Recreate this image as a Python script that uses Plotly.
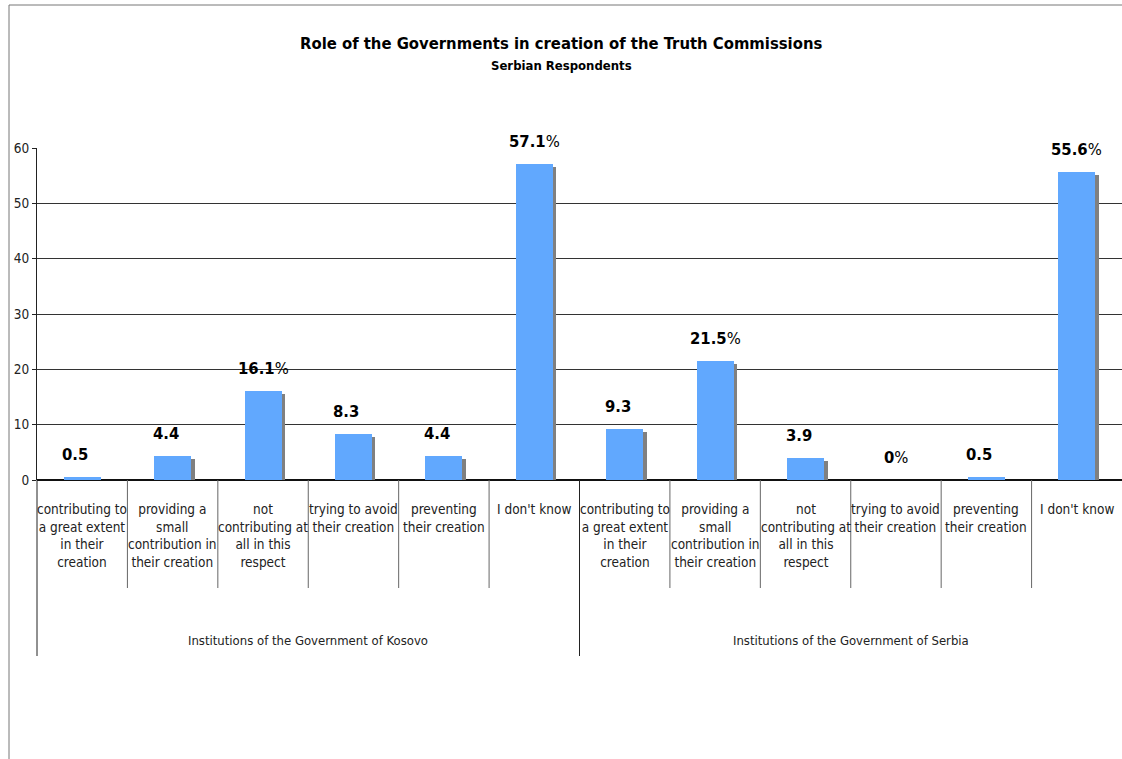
import plotly.graph_objects as go

# ---- data ----
categories = [
    "contributing to<br>a great extent<br>in their<br>creation",
    "providing a<br>small<br>contribution in<br>their creation",
    "not<br>contributing at<br>all in this<br>respect",
    "trying to avoid<br>their creation",
    "preventing<br>their creation",
    "I don't know",
]
groups = ["Institutions of the Government of Kosovo", "Institutions of the Government of Serbia"]
kosovo_values = [0.5, 4.4, 16.1, 8.3, 4.4, 57.1]
serbia_values = [9.3, 21.5, 3.9, 0, 0.5, 55.6]
kosovo_pct = [False, False, True, False, False, True]
serbia_pct = [False, True, False, True, False, True]
y_ticks = [0, 10, 20, 30, 40, 50, 60]

title = "Role of the Governments in creation of the Truth Commissions"
subtitle = "Serbian Respondents"

# ---- layout constants (pixels) ----
W, H = 1122, 759
L, R, T, B = 37, 0, 148, 279
plot_w = W - L - R
plot_h = H - T - B

FONT = "DejaVu Sans Condensed, Liberation Sans Narrow, Arial Narrow, DejaVu Sans, sans-serif"

values = kosovo_values + serbia_values
pct = kosovo_pct + serbia_pct
labels = categories + categories
n = len(values)
xs = list(range(n))


def px_to_paper_y(py):
    return (H - B - py) / plot_h


def px_to_paper_x(px):
    return (px - L) / plot_w


fig = go.Figure()

unit_px = plot_h / 60.0
shadow_drop = 3 / unit_px
fig.add_trace(go.Bar(
    x=xs, y=[max(v - shadow_drop, 0) for v in values],
    width=0.41, offset=-0.205 + 3.5 / (plot_w / n),
    marker=dict(color="#808080", line=dict(width=0)),
    hoverinfo="skip", showlegend=False,
))
fig.add_trace(go.Bar(
    x=xs, y=values, width=0.41, offset=-0.205,
    marker=dict(color="#61A8FE", line=dict(width=0)),
    showlegend=False,
))

annotations = []
# value labels
for x, v, p in zip(xs, values, pct):
    txt = f"<b>{v:g}</b>" + ("%" if p else "")
    annotations.append(dict(
        x=x, y=v, xref="x", yref="y", text=txt, showarrow=False,
        yanchor="bottom", yshift=11, xshift=(0 if p else -7),
        font=dict(family=FONT, size=16.5, color="#000000"),
    ))
# category labels
for x, lab in zip(xs, labels):
    annotations.append(dict(
        x=x, y=0, xref="x", yref="y", text=lab, showarrow=False,
        yanchor="top", yshift=-19,
        font=dict(family=FONT, size=13.5, color="#222222"),
        align="center",
    ))
# group labels
for gi, g in enumerate(groups):
    annotations.append(dict(
        x=(gi * 6 + 2.5), y=px_to_paper_y(640), xref="x", yref="paper",
        text=g, showarrow=False, yanchor="middle",
        font=dict(family=FONT, size=13, color="#222222"),
    ))
# titles
annotations.append(dict(
    x=px_to_paper_x(561), y=px_to_paper_y(43), xref="paper", yref="paper",
    text=f"<b>{title}</b>", showarrow=False, yanchor="middle",
    font=dict(family=FONT, size=16.5, color="#000000"),
))
annotations.append(dict(
    x=px_to_paper_x(561), y=px_to_paper_y(65), xref="paper", yref="paper",
    text=f"<b>{subtitle}</b>", showarrow=False, yanchor="middle",
    font=dict(family=FONT, size=13, color="#000000"),
))

shapes = []
# sub-category dividers
for k in range(1, n):
    if k == 6:
        continue
    shapes.append(dict(
        type="line", xref="paper", yref="paper",
        x0=k / n, x1=k / n, y0=0, y1=px_to_paper_y(588),
        line=dict(color="#666666", width=1),
    ))
# group dividers
for k in (0, 6):
    shapes.append(dict(
        type="line", xref="paper", yref="paper",
        x0=k / n, x1=k / n, y0=0, y1=px_to_paper_y(656),
        line=dict(color="#222222", width=1),
    ))
# outer frame (left & top)
shapes.append(dict(
    type="line", xref="paper", yref="paper",
    x0=px_to_paper_x(9), x1=px_to_paper_x(9), y0=px_to_paper_y(5), y1=px_to_paper_y(760),
    line=dict(color="#777777", width=1),
))
shapes.append(dict(
    type="line", xref="paper", yref="paper",
    x0=px_to_paper_x(9), x1=px_to_paper_x(1125), y0=px_to_paper_y(5), y1=px_to_paper_y(5),
    line=dict(color="#777777", width=1),
))

fig.update_layout(
    width=W, height=H,
    margin=dict(l=L, r=R, t=T, b=B, pad=0),
    paper_bgcolor="white", plot_bgcolor="white",
    barmode="overlay", bargap=0,
    showlegend=False,
    annotations=annotations,
    shapes=shapes,
    xaxis=dict(
        range=[-0.5, n - 0.5], showticklabels=False, showgrid=False,
        zeroline=False, showline=False, ticks="", fixedrange=True,
    ),
    yaxis=dict(
        range=[0, 60], tickvals=y_ticks, ticks="outside", ticklen=4,
        tickcolor="#222222", showline=True, linecolor="#222222", linewidth=1,
        gridcolor="#333333", gridwidth=1, zeroline=True, zerolinecolor="#111111",
        zerolinewidth=1.5,
        tickfont=dict(family=FONT, size=13.5, color="#222222"),
        fixedrange=True,
    ),
)

fig.write_html(
    "out.html",
    config={"displayModeBar": False},
    post_script="document.body.style.margin='0';document.body.style.padding='0';",
)
